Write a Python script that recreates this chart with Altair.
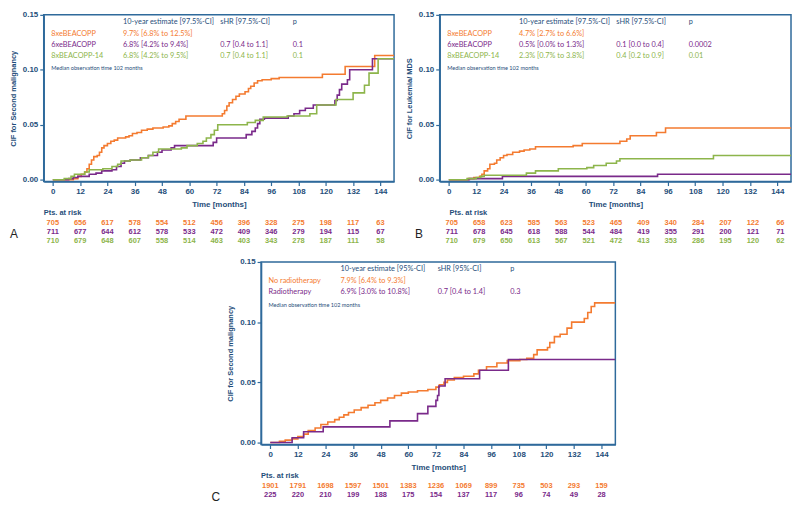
import altair as alt
import pandas as pd

ORANGE = "#F47B30"
PURPLE = "#7A2A8A"
GREEN = "#8DB54B"
FRAME = "#2F6A9B"
NAVY = "#1F4E7A"
BLACK = "#222222"
SANS = "Liberation Sans"
LEG = "Lato"

MONTHS = list(range(0, 145, 12))
END_MONTH = 150
X_DOMAIN = [-4, 150]
Y_DOMAIN = [-0.0017, 0.15]
Y_TICKS = [0, 0.05, 0.10, 0.15]

# ---------------- Panel A: second malignancy by treatment arm ----------------
A_ORANGE_T = [0, 9, 11, 12.5, 14, 15, 16, 17, 18, 19.5, 20.5, 21.5, 22.5, 24, 25.5, 27, 28.5, 32, 33.5, 35,
              37, 39, 41.5, 44, 48.5, 51, 52.5, 54, 55.5, 58.5, 74.5, 75.5, 76.5, 77.5, 79, 80.5, 82, 84.5,
              86, 87, 88.5, 90, 92, 96, 99.5, 118.5, 128.5, 141.5]
A_ORANGE_Y = [0, .001, .003, .005, .007, .010, .014, .018, .021, .022, .025, .029, .031, .033, .035, .036,
              .038, .039, .040, .042, .043, .045, .046, .047, .048, .049, .051, .053, .055, .058, .060, .063,
              .067, .070, .073, .076, .078, .080, .083, .085, .088, .090, .091, .092, .093, .096, .103, .113]
A_PURPLE_T = [0, 7, 9, 11, 16, 19, 21.5, 26, 28, 30, 31.5, 34, 38.5, 42, 46, 48, 52, 53.5, 70.5, 72, 85,
              87.5, 89, 90, 91, 93, 103.5, 106, 108.5, 111, 114.5, 124, 125, 126, 127, 129.5, 130.5, 140.5]
A_PURPLE_Y = [0, .001, .002, .003, .005, .006, .008, .009, .012, .015, .017, .018, .020, .022, .025, .027,
              .029, .031, .034, .038, .041, .044, .047, .051, .055, .056, .058, .060, .063, .065, .068, .072,
              .077, .082, .087, .091, .100, .110]
A_GREEN_T = [0, 5, 8, 9.5, 14, 16, 22, 26, 28.5, 30, 34, 39, 42, 44, 46.5, 56.5, 59, 63.5, 66, 67.5, 69.5,
             71, 72.5, 85.5, 89, 92.5, 103, 113, 116, 124.5, 132, 137, 139, 143]
A_GREEN_Y = [0, .001, .003, .005, .007, .009, .010, .012, .014, .017, .018, .020, .022, .025, .028, .029,
             .031, .033, .035, .038, .041, .045, .050, .052, .054, .057, .058, .060, .068, .073, .079, .086,
             .097, .110]
A_RISK_ORANGE = [705, 656, 617, 578, 554, 512, 456, 396, 328, 275, 198, 117, 63]
A_RISK_PURPLE = [711, 677, 644, 612, 578, 533, 472, 409, 346, 279, 194, 115, 67]
A_RISK_GREEN = [710, 679, 648, 607, 558, 514, 463, 403, 343, 278, 187, 111, 58]

# ---------------- Panel B: leukemia / MDS by treatment arm ----------------
B_ORANGE_T = [0, 8.5, 11, 13.5, 14.5, 15.5, 17, 18, 20, 21, 22.5, 24, 25.5, 28, 31, 33, 35.5, 38, 54.5,
              58.5, 75, 78, 79.5, 91, 95]
B_ORANGE_Y = [0, .001, .002, .003, .005, .008, .010, .014, .015, .018, .020, .022, .023, .025, .026, .027,
              .028, .030, .031, .033, .035, .037, .040, .043, .047]
B_PURPLE_T = [0, 9, 23.5, 91.5]
B_PURPLE_Y = [0, .001, .003, .005]
B_GREEN_T = [0, 8, 12, 14, 15.5, 34, 38, 48, 60.5, 63.5, 69, 73.5, 75, 116]
B_GREEN_Y = [0, .001, .002, .003, .004, .006, .008, .010, .011, .013, .015, .017, .019, .022]
B_RISK_ORANGE = [705, 658, 623, 585, 563, 523, 465, 409, 340, 284, 207, 122, 66]
B_RISK_PURPLE = [711, 678, 645, 618, 588, 544, 484, 419, 355, 291, 200, 121, 71]
B_RISK_GREEN = [710, 679, 650, 613, 567, 521, 472, 413, 353, 286, 195, 120, 62]

# ---------------- Panel C: second malignancy by radiotherapy ----------------
C_ORANGE_T = [0, 4, 6.5, 9.5, 12, 14.5, 16.5, 19.5, 22, 25, 28, 30, 32, 34, 36.5, 39.5, 42.5, 45.5, 48, 51,
              54, 57, 60, 64, 68.5, 72, 73.5, 75.5, 77, 80, 84, 88.5, 90.5, 94, 98.5, 103, 108.5, 111.5,
              114.5, 116, 120.5, 121.5, 123.5, 126, 129, 131, 136.5, 138, 139.5, 141]
C_ORANGE_Y = [0, .001, .002, .003, .005, .007, .010, .012, .015, .017, .019, .021, .023, .025, .027, .029,
              .031, .033, .035, .037, .039, .041, .042, .043, .044, .046, .048, .050, .052, .054, .055, .057,
              .060, .063, .066, .068, .069, .070, .073, .077, .079, .083, .088, .090, .095, .100, .103, .108,
              .113, .116]
C_PURPLE_T = [0, 9.5, 14.5, 23, 52, 64, 68.5, 72, 72.7, 73.3, 76, 91, 103.5]
C_PURPLE_Y = [0, .004, .009, .013, .018, .024, .030, .035, .039, .047, .053, .060, .069]
C_RISK_ORANGE = [1901, 1791, 1698, 1597, 1501, 1383, 1236, 1069, 899, 735, 503, 293, 159]
C_RISK_PURPLE = [225, 220, 210, 199, 188, 175, 154, 137, 117, 96, 74, 49, 28]

HEADER_975 = ["10-year estimate [97.5%-CI]", "sHR [97.5%-CI]", "p"]
HEADER_95 = ["10-year estimate [95%-CI]", "sHR [95%-CI]", "p"]
MEDIAN_TEXT = "Median observation time 102 months"

A_LEGEND = [
    ("8xeBEACOPP", ORANGE, "9.7% [6.8% to 12.5%]", "", ""),
    ("6xeBEACOPP", PURPLE, "6.8% [4.2% to 9.4%]", "0.7 [0.4 to 1.1]", "0.1"),
    ("8xBEACOPP-14", GREEN, "6.8% [4.2% to 9.5%]", "0.7 [0.4 to 1.1]", "0.1"),
]
B_LEGEND = [
    ("8xeBEACOPP", ORANGE, "4.7% [2.7% to 6.6%]", "", ""),
    ("6xeBEACOPP", PURPLE, "0.5% [0.0% to 1.3%]", "0.1 [0.0 to 0.4]", "0.0002"),
    ("8xBEACOPP-14", GREEN, "2.3% [0.7% to 3.8%]", "0.4 [0.2 to 0.9]", "0.01"),
]
C_LEGEND = [
    ("No radiotherapy", ORANGE, "7.9% [6.4% to 9.3%]", "", ""),
    ("Radiotherapy", PURPLE, "6.9% [3.0% to 10.8%]", "0.7 [0.4 to 1.4]", "0.3"),
]

X_AXIS = alt.Axis(values=MONTHS, format="d", title="Time [months]", labelFont=SANS, labelFontSize=8,
                  labelFontWeight="bold", labelColor=NAVY, labelPadding=2, labelFlush=False,
                  labelOverlap=False, tickSize=4, tickColor=FRAME, tickWidth=1.2, domainColor=FRAME,
                  domainWidth=1.5, grid=False, titleFont=SANS, titleFontSize=8, titleFontWeight="bold",
                  titleColor=NAVY, titlePadding=5)


def y_axis(title):
    return alt.Axis(values=Y_TICKS, format=".2f", title=title, labelFont=SANS, labelFontSize=8,
                    labelFontWeight="bold", labelColor=NAVY, labelPadding=2, labelOverlap=False,
                    tickSize=4, tickColor=FRAME, tickWidth=1.2, domainColor=FRAME, domainWidth=1.5,
                    grid=False, titleFont=SANS, titleFontSize=7.5, titleFontWeight="bold",
                    titleColor=NAVY, titlePadding=5)


def x_enc():
    return alt.X("t:Q", scale=alt.Scale(domain=X_DOMAIN, nice=False, zero=False), axis=X_AXIS)


def steps_frame(series):
    rows = []
    for name, _color, ts, ys in series:
        for t, y in zip(list(ts) + [END_MONTH], list(ys) + [ys[-1]]):
            rows.append({"grp": name, "t": t, "y": y})
    return pd.DataFrame(rows)


def label(text, px, py, color, size=7.4, font=LEG, weight="normal"):
    return alt.Chart(pd.DataFrame({"s": [text]})).mark_text(
        align="left", baseline="middle", font=font, fontSize=size, fontWeight=weight, color=color
    ).encode(x=alt.value(px), y=alt.value(py), text="s:N")


def panel(series, risks, legend, header, ytitle, letter, w, h, letter_x, pts_x, risk_dx):
    names = [s[0] for s in series]
    colors = [s[1] for s in series]
    lines = alt.Chart(steps_frame(series)).mark_line(
        interpolate="step-after", strokeWidth=1.6, clip=True
    ).encode(
        x=x_enc(),
        y=alt.Y("y:Q", scale=alt.Scale(domain=Y_DOMAIN, nice=False, zero=False), axis=y_axis(ytitle)),
        color=alt.Color("grp:N", scale=alt.Scale(domain=names, range=colors), legend=None),
    )
    layers = [lines]
    for i, (counts, color) in enumerate(risks):
        df = pd.DataFrame({"t": MONTHS, "n": [str(c) for c in counts]})
        layers.append(
            alt.Chart(df).mark_text(font=SANS, fontSize=7.5, fontWeight="bold", color=color,
                                    baseline="middle", align="center", dx=risk_dx)
            .encode(x=x_enc(), y=alt.value(h + 42 + 8.7 * i), text="n:N")
        )
    layers.append(label("Pts. at risk", pts_x, h + 32, NAVY, size=7.5, font=SANS, weight="bold"))
    cols = [7.5, 80, 178, 251]
    layers.append(label(header[0], cols[1], 7.5, NAVY))
    layers.append(label(header[1], cols[2], 7.5, NAVY))
    layers.append(label(header[2], cols[3], 7.5, NAVY))
    for r, (name, color, est, shr, p) in enumerate(legend):
        yy = 19.5 + 11 * r
        for txt, cx in zip([name, est, shr, p], cols):
            if txt:
                layers.append(label(txt, cx, yy, color))
    layers.append(label(MEDIAN_TEXT, cols[0], 19.5 + 11 * len(legend) + 1.5, NAVY, size=5.6))
    layers.append(label(letter, letter_x, h + 53, BLACK, size=12, font=SANS))
    return alt.layer(*layers).properties(
        width=w, height=h, view=alt.ViewBackground(stroke=FRAME, strokeWidth=1.5)
    )


A = panel(
    [("8xeBEACOPP", ORANGE, A_ORANGE_T, A_ORANGE_Y),
     ("6xeBEACOPP", PURPLE, A_PURPLE_T, A_PURPLE_Y),
     ("8xBEACOPP-14", GREEN, A_GREEN_T, A_GREEN_Y)],
    [(A_RISK_ORANGE, ORANGE), (A_RISK_PURPLE, PURPLE), (A_RISK_GREEN, GREEN)],
    A_LEGEND, HEADER_975, "CIF for Second malignancy", "A", 353, 168, -34, 0, 0,
)
B = panel(
    [("8xeBEACOPP", ORANGE, B_ORANGE_T, B_ORANGE_Y),
     ("6xeBEACOPP", PURPLE, B_PURPLE_T, B_PURPLE_Y),
     ("8xBEACOPP-14", GREEN, B_GREEN_T, B_GREEN_Y)],
    [(B_RISK_ORANGE, ORANGE), (B_RISK_PURPLE, PURPLE), (B_RISK_GREEN, GREEN)],
    B_LEGEND, HEADER_975, "CIF for Leukemia/ MDS", "B", 354, 168, -25, 10, 3,
)
C = panel(
    [("No radiotherapy", ORANGE, C_ORANGE_T, C_ORANGE_Y),
     ("Radiotherapy", PURPLE, C_PURPLE_T, C_PURPLE_Y)],
    [(C_RISK_ORANGE, ORANGE), (C_RISK_PURPLE, PURPLE)],
    C_LEGEND, HEADER_95, "CIF for Second malignancy", "C", 357, 184, -50, 0, 0,
)

spacer = alt.Chart(pd.DataFrame({"v": [0]})).mark_point(opacity=0, size=1).properties(
    width=158, height=10, view=alt.ViewBackground(strokeOpacity=0)
)

top = alt.hconcat(A, B, spacing=9)
bottom = alt.hconcat(spacer, C, spacing=10)
chart = alt.vconcat(top, bottom, spacing=12).properties(padding=0, background="white")

chart.save("out.html", embed_options={"renderer": "svg", "actions": False})
